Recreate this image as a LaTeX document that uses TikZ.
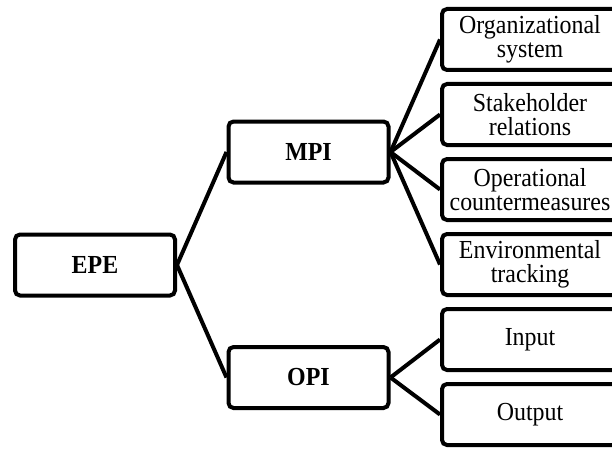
\documentclass[tikz,border=0pt]{standalone}
\usepackage{fontspec}
\setmainfont{Liberation Serif}[FakeStretch=0.92]
\usetikzlibrary{positioning}
\tikzset{
box/.style={draw, line width=4pt, rounded corners=5pt, align=center, minimum height=61pt, font=\fontsize{26}{24.5}\selectfont},
main/.style={box, minimum width=160pt, font=\fontsize{26}{24.5}\selectfont\bfseries},
leaf/.style={box, minimum width=176pt},
link/.style={line width=4pt},
node distance=75pt,
on grid,
}

\begin{document}
\begin{tikzpicture}[x=1pt,y=1pt]
    \useasboundingbox (0,0) rectangle (612,448);
    \clip (0,0) rectangle (612,448);
    \node[main] (epe) at (95,183) {EPE};
    \node[main] (mpi) [above right=113pt and 213.5pt of epe] {MPI};
    \node[main] (opi) [below right=112.5pt and 213.5pt of epe] {OPI};
    %leaves of MPI
    \node[leaf] (org) at (530,408.5) {Organizational\\system};
    \node[leaf] (stake) [below=of org] {Stakeholder\\relations};
    \node[leaf] (oper) [below=of stake] {Operational\\countermeasures};
    \node[leaf] (env) [below=of oper] {Environmental\\tracking};
    %leaves of OPI
    \node[leaf] (in) [below=of env] {Input};
    \node[leaf] (out) [below=of in] {Output};
    \draw[link] (epe.east) -- (mpi.west);
    \draw[link] (epe.east) -- (opi.west);
    \draw[link] (mpi.east) -- (org.west);
    \draw[link] (mpi.east) -- (stake.west);
    \draw[link] (mpi.east) -- (oper.west);
    \draw[link] (mpi.east) -- (env.west);
    \draw[link] (opi.east) -- (in.west);
    \draw[link] (opi.east) -- (out.west);
\end{tikzpicture}
\end{document}
